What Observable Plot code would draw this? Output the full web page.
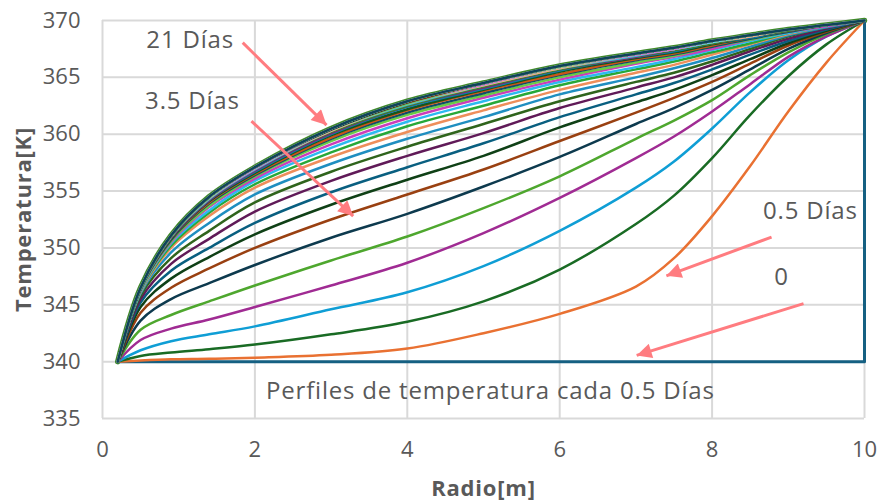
<!DOCTYPE html>
<html>
<head>
<meta charset="utf-8">
<script src="https://cdn.jsdelivr.net/npm/d3@7"></script>
<script src="https://cdn.jsdelivr.net/npm/@observablehq/plot@0.6"></script>
<style>
  html, body { margin: 0; padding: 0; background: #ffffff; }
  #chart svg { display: block; }
</style>
</head>
<body>
<div id="chart"></div>
<script>
// ---------------- DATA ----------------
const xTicks = [0, 2, 4, 6, 8, 10];
const yTicks = [335, 340, 345, 350, 355, 360, 365, 370];

// radial positions (m) where profiles were read
const radius = [0.2, 0.5, 0.9, 1.4, 2, 3, 4, 5, 6, 7, 7.5, 8, 8.5, 9, 9.5, 10];

// initial profile (t = 0)
const initialRadius = [0.2, 10, 10];
const initialTemp = [340, 340, 370];

// profile times (days)
const days = [0.5, 1, 1.5, 2, 2.5, 3, 3.5, 4, 4.5, 5, 5.5, 6, 6.5, 7, 7.5, 8, 8.5, 9, 9.5, 10,
  10.5, 11, 11.5, 12, 12.5, 13, 13.5, 14, 14.5, 15, 15.5, 16, 16.5, 17, 17.5, 18, 18.5, 19, 19.5, 20, 20.5, 21];

// temperature (K) of each profile at the radii above
const tempProfiles = [
  [340, 340.1, 340.2, 340.25, 340.35, 340.6, 341.15, 342.5, 344.2, 346.6, 349.1, 352.8, 357.2, 362.0, 366.3, 370],
  [340, 340.5, 340.8, 341.1, 341.5, 342.4, 343.5, 345.3, 348.1, 352.1, 354.6, 357.9, 361.7, 365.1, 367.9, 370],
  [340, 341.0, 341.8, 342.4, 343.1, 344.6, 346.1, 348.4, 351.5, 355.3, 357.6, 360.5, 363.7, 366.5, 368.6, 370],
  [340, 341.9, 342.9, 343.7, 344.8, 346.7, 348.7, 351.3, 354.4, 357.9, 359.8, 362.0, 364.4, 366.8, 368.6, 370],
  [340, 342.8, 344.1, 345.3, 346.7, 348.9, 351.0, 353.5, 356.3, 359.6, 361.2, 363.0, 365.2, 367.2, 368.8, 370],
  [340, 343.6, 345.5, 346.9, 348.5, 350.9, 353.0, 355.4, 358.0, 360.9, 362.3, 363.9, 365.7, 367.5, 368.9, 370],
  [340, 344.3, 346.5, 348.2, 350.0, 352.5, 354.7, 356.9, 359.4, 361.9, 363.2, 364.6, 366.2, 367.8, 369.0, 370],
  [340, 344.8, 347.3, 349.2, 351.2, 353.8, 356.0, 358.1, 360.6, 362.8, 363.9, 365.2, 366.6, 368.0, 369.1, 370],
  [340, 345.2, 348.0, 350.0, 352.2, 354.9, 357.1, 359.2, 361.5, 363.5, 364.5, 365.7, 367.0, 368.2, 369.2, 370],
  [340, 345.5, 348.6, 350.8, 353.2, 355.9, 358.1, 360.1, 362.3, 364.1, 365.0, 366.1, 367.3, 368.4, 369.3, 370],
  [340, 345.8, 349.1, 351.5, 354.0, 356.7, 358.9, 360.9, 362.9, 364.6, 365.4, 366.4, 367.5, 368.6, 369.4, 370],
  [340, 346.0, 349.6, 352.2, 354.7, 357.4, 359.6, 361.5, 363.5, 365.0, 365.8, 366.7, 367.7, 368.7, 369.4, 370],
  [340, 346.1, 350.0, 352.8, 355.3, 358.0, 360.2, 362.1, 363.9, 365.4, 366.1, 367.0, 367.9, 368.8, 369.5, 370],
  [340, 346.2, 350.2, 353.1, 355.6, 358.4, 360.7, 362.5, 364.3, 365.7, 366.4, 367.2, 368.0, 368.9, 369.5, 370],
  [340, 346.2, 350.4, 353.3, 355.9, 358.8, 361.1, 362.9, 364.6, 365.9, 366.6, 367.4, 368.2, 368.9, 369.5, 370],
  [340, 346.3, 350.5, 353.6, 356.1, 359.1, 361.4, 363.2, 364.8, 366.2, 366.8, 367.5, 368.3, 369.0, 369.5, 370],
  [340, 346.3, 350.6, 353.7, 356.3, 359.4, 361.7, 363.4, 365.0, 366.3, 366.9, 367.7, 368.3, 369.0, 369.6, 370],
  [340, 346.4, 350.7, 353.9, 356.4, 359.6, 361.9, 363.6, 365.2, 366.5, 367.0, 367.7, 368.4, 369.0, 369.6, 370],
  [340, 346.4, 350.8, 354.0, 356.5, 359.7, 362.1, 363.8, 365.3, 366.6, 367.1, 367.8, 368.5, 369.1, 369.6, 370],
  [340, 346.4, 350.8, 354.1, 356.6, 359.9, 362.2, 363.9, 365.5, 366.7, 367.2, 367.9, 368.5, 369.1, 369.6, 370],
  [340, 346.4, 350.9, 354.2, 356.7, 360.0, 362.4, 364.0, 365.6, 366.8, 367.3, 368.0, 368.5, 369.1, 369.6, 370],
  [340, 346.4, 350.9, 354.2, 356.8, 360.1, 362.5, 364.1, 365.7, 366.8, 367.4, 368.0, 368.6, 369.1, 369.6, 370],
  [340, 346.4, 351.0, 354.3, 356.9, 360.2, 362.5, 364.2, 365.7, 366.9, 367.4, 368.0, 368.6, 369.1, 369.6, 370],
  [340, 346.5, 351.0, 354.3, 356.9, 360.3, 362.6, 364.3, 365.8, 366.9, 367.5, 368.1, 368.6, 369.2, 369.6, 370],
  [340, 346.5, 351.0, 354.4, 357.0, 360.3, 362.7, 364.3, 365.8, 367.0, 367.5, 368.1, 368.6, 369.2, 369.6, 370],
  [340, 346.5, 351.0, 354.4, 357.0, 360.4, 362.7, 364.4, 365.9, 367.0, 367.5, 368.1, 368.7, 369.2, 369.6, 370],
  [340, 346.5, 351.1, 354.4, 357.0, 360.4, 362.8, 364.4, 365.9, 367.0, 367.5, 368.1, 368.7, 369.2, 369.6, 370],
  [340, 346.5, 351.1, 354.4, 357.0, 360.4, 362.8, 364.4, 365.9, 367.0, 367.5, 368.2, 368.7, 369.2, 369.6, 370],
  [340, 346.5, 351.1, 354.4, 357.1, 360.4, 362.8, 364.5, 365.9, 367.1, 367.6, 368.2, 368.7, 369.2, 369.6, 370],
  [340, 346.5, 351.1, 354.5, 357.1, 360.4, 362.8, 364.5, 366.0, 367.1, 367.6, 368.2, 368.7, 369.2, 369.6, 370],
  [340, 346.5, 351.1, 354.5, 357.1, 360.5, 362.8, 364.5, 366.0, 367.1, 367.6, 368.2, 368.7, 369.2, 369.6, 370],
  [340, 346.5, 351.1, 354.5, 357.1, 360.5, 362.9, 364.5, 366.0, 367.1, 367.6, 368.2, 368.7, 369.2, 369.6, 370],
  [340, 346.5, 351.1, 354.5, 357.1, 360.5, 362.9, 364.5, 366.0, 367.1, 367.6, 368.2, 368.7, 369.2, 369.6, 370],
  [340, 346.5, 351.1, 354.5, 357.1, 360.5, 362.9, 364.5, 366.0, 367.1, 367.6, 368.2, 368.7, 369.2, 369.6, 370],
  [340, 346.5, 351.1, 354.5, 357.1, 360.5, 362.9, 364.5, 366.0, 367.1, 367.6, 368.2, 368.7, 369.2, 369.6, 370],
  [340, 346.5, 351.1, 354.5, 357.1, 360.5, 362.9, 364.5, 366.0, 367.1, 367.6, 368.2, 368.7, 369.2, 369.6, 370],
  [340, 346.5, 351.1, 354.5, 357.1, 360.5, 362.9, 364.5, 366.0, 367.1, 367.6, 368.2, 368.7, 369.2, 369.6, 370],
  [340, 346.5, 351.1, 354.5, 357.1, 360.5, 362.9, 364.5, 366.0, 367.1, 367.6, 368.2, 368.7, 369.2, 369.6, 370],
  [340, 346.5, 351.1, 354.5, 357.1, 360.5, 362.9, 364.5, 366.0, 367.1, 367.6, 368.2, 368.7, 369.2, 369.6, 370],
  [340, 346.5, 351.1, 354.5, 357.1, 360.5, 362.9, 364.5, 366.0, 367.1, 367.6, 368.2, 368.7, 369.2, 369.6, 370],
  [340, 346.5, 351.1, 354.5, 357.1, 360.5, 362.9, 364.5, 366.0, 367.1, 367.6, 368.2, 368.7, 369.2, 369.6, 370],
  [340, 346.5, 351.1, 354.5, 357.1, 360.5, 362.9, 364.5, 366.0, 367.1, 367.6, 368.2, 368.7, 369.2, 369.6, 370]
];

// annotation labels (data coordinates)
const labelText = ["21 Días", "3.5 Días", "0.5 Días", "0", "Perfiles de temperatura cada 0.5 Días"];
const labelX = [1.15, 1.18, 9.29, 8.91, 5.09];
const labelY = [368.25, 362.9, 353.25, 347.45, 337.35];

// annotation arrows (data coordinates): start -> end
const arrowX1 = [1.84, 1.955, 8.78, 9.20];
const arrowY1 = [368.05, 361.15, 350.95, 345.1];
const arrowX2 = [2.94, 3.29, 7.40, 7.01];
const arrowY2 = [360.8, 352.8, 347.55, 340.55];

// ---------------- STYLE ----------------
const lineColors = [
  "#156082", "#E97132", "#196B24", "#0F9ED5", "#A02B93", "#4EA72E",
  "#0D3A4E", "#994011", "#0F4016", "#095F80", "#601A58", "#2F641C",
  "#1F8EC0", "#EE8E5B", "#27A838", "#2CBAF0", "#CB3DBB", "#68CC45",
  "#114D68", "#CD5516", "#14561D", "#0C7EAA", "#802276", "#3E8625",
  "#46B1E1", "#F2AA84", "#47D45A", "#61CBF4", "#D86ECC", "#8ED873",
  "#0B3041", "#80350E", "#0D3612", "#084F6A", "#50164A", "#275417",
  "#2A9FD6", "#F09C70", "#2FBF44", "#45C1F1", "#D056C1", "#7BD25A",
  "#0F435B"
];
const textColor = "#595959";
const arrowColor = "#FF7C80";
const font = "'Open Sans', 'Noto Sans', sans-serif";
const curveType = "catmull-rom";

// ---------------- BUILD ----------------
const profileRows = (i) => radius.map((r, j) => ({ r, t: tempProfiles[i][j] }));
const initialRows = initialRadius.map((r, i) => ({ r, t: initialTemp[i] }));
const labels = labelText.map((text, i) => ({ text, x: labelX[i], y: labelY[i] }));
const arrows = arrowX1.map((x1, i) => ({ x1, y1: arrowY1[i], x2: arrowX2[i], y2: arrowY2[i] }));

const lineMarks = [];
// wide green band under the last (21 d) profile
lineMarks.push(Plot.line(profileRows(tempProfiles.length - 1), {
  x: "r", y: "t", stroke: "#3F8A2A", strokeWidth: 5.5, curve: curveType, strokeLinejoin: "round"
}));
lineMarks.push(Plot.line(initialRows, { x: "r", y: "t", stroke: lineColors[0], strokeWidth: 3 }));
days.forEach((d, i) => {
  lineMarks.push(Plot.line(profileRows(i), {
    x: "r", y: "t", stroke: lineColors[i + 1], strokeWidth: 2.5, curve: curveType, strokeLinejoin: "round"
  }));
});

const chart = Plot.plot({
  width: 881,
  height: 501,
  marginLeft: 102,
  marginRight: 17,
  marginTop: 20,
  marginBottom: 83,
  style: { fontFamily: font, color: textColor, background: "#ffffff", overflow: "visible" },
  x: { domain: [0, 10] },
  y: { domain: [335, 370] },
  marks: [
    Plot.gridX(xTicks, { stroke: "#d9d9d9", strokeOpacity: 1, strokeWidth: 2 }),
    Plot.gridY(yTicks, { stroke: "#d9d9d9", strokeOpacity: 1, strokeWidth: 2 }),
    Plot.axisX(xTicks, { tickSize: 0, tickPadding: 23, fontSize: 22, label: null, tickFormat: d => String(d) }),
    Plot.axisY(yTicks, { tickSize: 0, tickPadding: 22, fontSize: 22, label: null, tickFormat: d => String(d) }),
    ...lineMarks,
    Plot.link(arrows, { x1: "x1", y1: "y1", x2: "x2", y2: "y2", stroke: arrowColor, strokeWidth: 3 }),
    Plot.text(labels, { x: "x", y: "y", text: "text", fontSize: 24, fill: textColor }),
    Plot.text(["Temperatura[K]"], { text: d => d, frameAnchor: "left", textAnchor: "middle", lineAnchor: "middle", dx: -79, rotate: -90, fontSize: 22, fontWeight: "bold", fill: textColor }),
    Plot.text(["Radio[m]"], { text: d => d, frameAnchor: "bottom", textAnchor: "middle", lineAnchor: "middle", dy: 70, fontSize: 22, fontWeight: "bold", fill: textColor })
  ]
});

// letter spacing for annotation and title texts (wider office font look)
chart.querySelectorAll('g[aria-label="text"] text').forEach(t => { t.style.letterSpacing = "0.8px"; });

// filled arrowheads for the annotation links
const ns = "http://www.w3.org/2000/svg";
const defs = document.createElementNS(ns, "defs");
const marker = document.createElementNS(ns, "marker");
marker.setAttribute("id", "arrowhead-fill");
marker.setAttribute("viewBox", "0 0 10 10");
marker.setAttribute("refX", "10");
marker.setAttribute("refY", "5");
marker.setAttribute("markerUnits", "userSpaceOnUse");
marker.setAttribute("markerWidth", "18");
marker.setAttribute("markerHeight", "15");
marker.setAttribute("orient", "auto");
const head = document.createElementNS(ns, "path");
head.setAttribute("d", "M0,0L10,5L0,10Z");
head.setAttribute("fill", arrowColor);
marker.appendChild(head);
defs.appendChild(marker);
chart.insertBefore(defs, chart.firstChild);
chart.querySelectorAll('g[aria-label="link"] path, g[aria-label="link"] line').forEach(p => {
  p.setAttribute("marker-end", "url(#arrowhead-fill)");
});

document.getElementById("chart").appendChild(chart);
</script>
</body>
</html>
